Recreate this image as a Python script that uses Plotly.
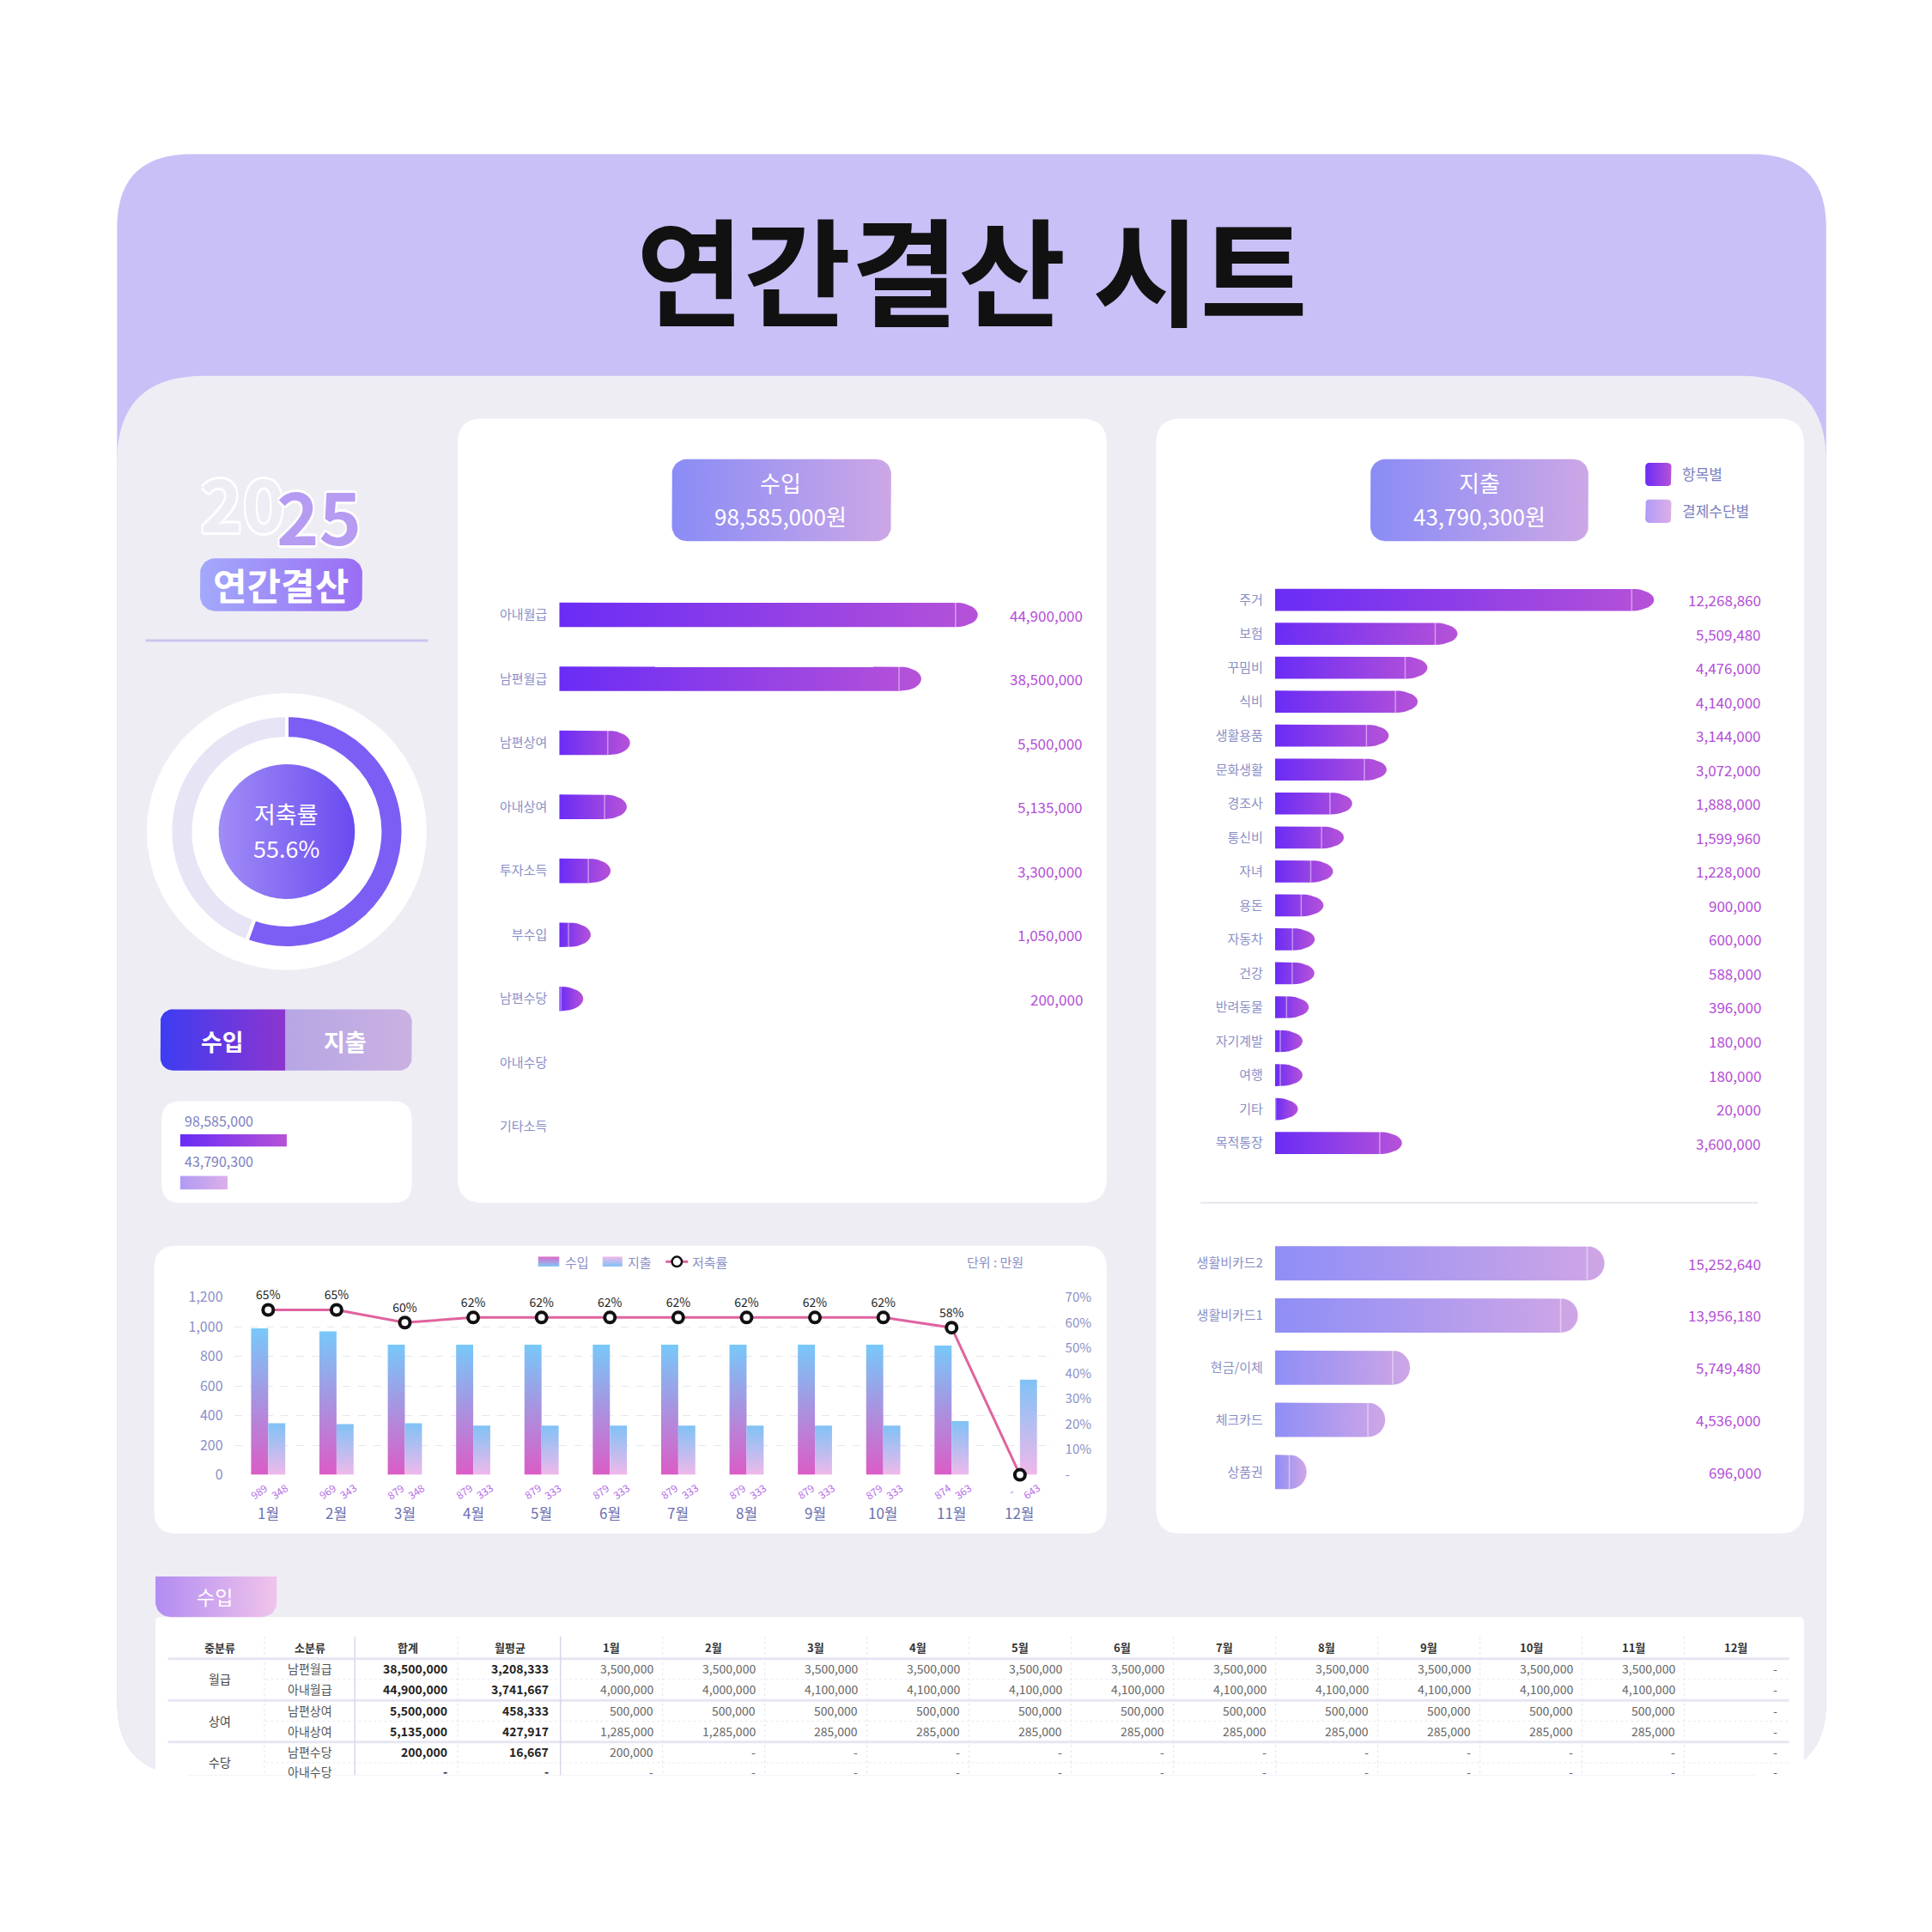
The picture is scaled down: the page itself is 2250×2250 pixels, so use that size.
import numpy as np
import plotly.graph_objects as go

S = 2250 / 1560  # layout is measured on a 1560 grid, page is 2250 px
OX, OY = 6, 11   # compensate page offset of the rendered html
FONT = "Noto Sans CJK KR"

# ---------------- data ----------------
income_cats = ["아내월급", "남편월급", "남편상여", "아내상여", "투자소득", "부수입", "남편수당", "아내수당", "기타소득"]
income_vals = [44900000, 38500000, 5500000, 5135000, 3300000, 1050000, 200000, 0, 0]
income_total = 98585000

expense_cats = ["주거", "보험", "꾸밈비", "식비", "생활용품", "문화생활", "경조사", "통신비", "자녀", "용돈",
                "자동차", "건강", "반려동물", "자기계발", "여행", "기타", "목적통장"]
expense_vals = [12268860, 5509480, 4476000, 4140000, 3144000, 3072000, 1888000, 1599960, 1228000, 900000,
                600000, 588000, 396000, 180000, 180000, 20000, 3600000]
expense_total = 43790300

pay_cats = ["생활비카드2", "생활비카드1", "현금/이체", "체크카드", "상품권"]
pay_vals = [15252640, 13956180, 5749480, 4536000, 696000]

months = ["1월", "2월", "3월", "4월", "5월", "6월", "7월", "8월", "9월", "10월", "11월", "12월"]
m_income = [989, 969, 879, 879, 879, 879, 879, 879, 879, 879, 874, 0]
m_expense = [348, 343, 348, 333, 333, 333, 333, 333, 333, 333, 363, 643]
m_rate = [65, 65, 60, 62, 62, 62, 62, 62, 62, 62, 58, 0]
saving_rate = 55.6

tbl_mid = ["월급", "상여", "수당"]
tbl_sub = ["남편월급", "아내월급", "남편상여", "아내상여", "남편수당", "아내수당"]
tbl_sum = [38500000, 44900000, 5500000, 5135000, 200000, 0]
tbl_avg = [3208333, 3741667, 458333, 427917, 16667, 0]
tbl_months = [
    [3500000] * 11 + [0],
    [4000000, 4000000] + [4100000] * 9 + [0],
    [500000] * 11 + [0],
    [1285000, 1285000] + [285000] * 9 + [0],
    [200000] + [0] * 11,
    [0] * 12,
]

fig = go.Figure()
shapes, annots = [], []
AX = "#8a8fc6"
VAL = "#b34fd6"


def F(d):
    return round(d * S)


def dx(v):
    return (v - OX) / 1560


def dy(v):
    return 1 - (v - OY) / 1560


def fmt(v):
    return f"{v:,}" if v else "-"


def rr_path(x0, y0, x1, y1, r):
    return (f"M{x0+r},{y0} L{x1-r},{y0} Q{x1},{y0} {x1},{y0+r} L{x1},{y1-r} Q{x1},{y1} {x1-r},{y1} "
            f"L{x0+r},{y1} Q{x0},{y1} {x0},{y1-r} L{x0},{y0+r} Q{x0},{y0} {x0+r},{y0} Z")


def box(x0, y0, x1, y1, r, fill):
    shapes.append(dict(type="path", path=rr_path(x0, y0, x1, y1, r), xref="x", yref="y",
                       fillcolor=fill, line=dict(width=0), layer="below"))


def rr_pts(x0, y0, x1, y1, r, corners=(1, 1, 1, 1)):
    xs, ys = [], []
    cs = [(x1 - r, y0 + r, -90, 0), (x1 - r, y1 - r, 0, 90), (x0 + r, y1 - r, 90, 180), (x0 + r, y0 + r, 180, 270)]
    cx_def = [(x1, y0), (x1, y1), (x0, y1), (x0, y0)]
    for (cx, cy, a0, a1), on, p in zip(cs, corners, cx_def):
        if on:
            t = np.radians(np.linspace(a0, a1, 10))
            xs += list(cx + r * np.cos(t)); ys += list(cy + r * np.sin(t))
        else:
            xs.append(p[0]); ys.append(p[1])
    return xs + xs[:1], ys + ys[:1]


def gbox(x0, y0, x1, y1, r, c0, c1, corners=(1, 1, 1, 1), kind="horizontal"):
    xs, ys = rr_pts(x0, y0, x1, y1, r, corners)
    fig.add_trace(go.Scatter(x=xs, y=ys, fill="toself", mode="lines", line=dict(width=0),
                             fillgradient=dict(type=kind, colorscale=[[0, c0], [1, c1]]),
                             hoverinfo="skip", showlegend=False, xaxis="x", yaxis="y"))


def txt(x, y, s, size, color, xanchor="center", xref="x", yref="y", **kw):
    annots.append(dict(x=x, y=y, text=s, xref=xref, yref=yref, showarrow=False, xanchor=xanchor,
                       yanchor="middle", font=dict(family=FONT, size=size, color=color, **kw.pop("font", {})), **kw))


# ---------------- page background ----------------
box(95, 122, 1475, 1445, 60, "#c8c0f7")
shapes.append(dict(type="path", xref="x", yref="y", layer="below", fillcolor="#eeedf4", line=dict(width=0),
                   path="M95,373 Q95,303 165,303 L1405,303 Q1475,303 1475,373 L1475,1385 Q1475,1445 1415,1445 "
                        "L155,1445 Q95,1445 95,1385 Z"))
txt(785, 214, "<b>연간결산 시트</b>", F(94), "#111111")

for c in [(370, 338, 894, 978, 20), (934, 338, 1457, 1248, 20), (125, 1013, 894, 1248, 18),
          (131, 895, 333, 978, 15), (126, 1316, 1457, 1445, 4)]:
    box(*c, "#ffffff")

# ---------------- left column ----------------
outline = "2px 2px 0 #fff, -2px -2px 0 #fff, 2px -2px 0 #fff, -2px 2px 0 #fff, 0 3px 0 #fff, 0 -3px 0 #fff"
txt(196, 405, "<b>20</b>", F(58), "#eeedf4", font=dict(shadow=outline))
txt(258, 416, "<b>25</b>", F(58), "#b69bf2", font=dict(shadow=outline))
gbox(162, 452, 293, 495, 12, "#a3a9fb", "#9a6df4")
txt(227, 473, "<b>연간결산</b>", F(30), "#ffffff")
shapes.append(dict(type="line", x0=118, x1=346, y0=519, y1=519, xref="x", yref="y",
                   line=dict(color="#cbc5ee", width=3), layer="below"))

shapes.append(dict(type="circle", x0=119, x1=345, y0=562, y1=788, xref="x", yref="y",
                   fillcolor="#ffffff", line=dict(width=0), layer="below"))
fig.add_trace(go.Pie(values=[saving_rate, 100 - saving_rate], hole=0.8, sort=False, direction="clockwise",
                     marker=dict(colors=["#7c5ef4", "#e6e4f5"], line=dict(color="#ffffff", width=4)),
                     textinfo="none", hoverinfo="skip", showlegend=False,
                     domain=dict(x=[dx(137), dx(327)], y=[dy(770), dy(580)])))
t = np.linspace(0, 2 * np.pi, 60)
fig.add_trace(go.Scatter(x=232 + 55 * np.cos(t), y=675 + 55 * np.sin(t), fill="toself", mode="lines",
                         line=dict(width=0), hoverinfo="skip", showlegend=False,
                         fillgradient=dict(type="horizontal", colorscale=[[0, "#a18cf6"], [1, "#6a4bf0"]])))
txt(232, 660, "저축률", F(19), "#ffffff")
txt(232, 688, f"{saving_rate}%", F(19), "#ffffff")

gbox(130, 820, 231, 870, 10, "#3c3df2", "#8d35cf", corners=(0, 0, 1, 1))
gbox(231, 820, 333, 870, 10, "#b6a6e4", "#cbb1e2", corners=(1, 1, 0, 0))
txt(180, 846, "<b>수입</b>", F(19), "#ffffff")
txt(279, 846, "<b>지출</b>", F(19), "#ffffff")

txt(148, 911, fmt(income_total), F(11), "#7b7fc0", xanchor="left")
txt(148, 944, fmt(expense_total), F(11), "#7b7fc0", xanchor="left")
L = 86
gbox(146, 922, 146 + L, 932, 0.1, "#6a2cf5", "#b652d8")
gbox(146, 956, 146 + L * expense_total / income_total, 967, 0.1, "#b09af5", "#dcb0e8")

# ---------------- badges + legend ----------------
gbox(543, 371, 720, 438, 12, "#8a8cf6", "#cca7e6")
txt(631, 390, "수입", F(18), "#ffffff")
txt(631, 417, f"{income_total:,}원", F(18), "#ffffff")
gbox(1107, 371, 1283, 438, 12, "#8a8cf6", "#cca7e6")
txt(1195, 390, "지출", F(18), "#ffffff")
txt(1195, 417, f"{expense_total:,}원", F(18), "#ffffff")
gbox(1329, 374, 1350, 393, 3, "#6a2cf5", "#b652d8")
gbox(1329, 404, 1350, 423, 3, "#b09af5", "#dcb0e8")
txt(1357, 383, "항목별", F(12), "#7b80c0", xanchor="left")
txt(1357, 413, "결제수단별", F(12), "#7b80c0", xanchor="left")
shapes.append(dict(type="line", x0=970, x1=1420, y0=978, y1=978, xref="x", yref="y",
                   line=dict(color="#e6e6ef", width=2), layer="below"))


# ---------------- horizontal bar charts ----------------
def hbars(ax, cats, vals, px0, px1, py0, py1, rect_px, capw, bar_h, c0, c1, val_x):
    n = len(cats)
    R = max(vals) * (px1 - px0) / rect_px
    ux = R / (px1 - px0)
    step = (py1 - py0) / n
    hu = bar_h / step / 2
    cw = capw * ux
    for i, v in enumerate(vals):
        if v <= 0:
            continue
        a = np.linspace(-np.pi / 2, np.pi / 2, 16)
        xs = [0, v] + list(v + cw * np.cos(a)) + [v, 0, 0]
        ys = [i - hu, i - hu] + list(i + hu * np.sin(a)) + [i + hu, i + hu, i - hu]
        fig.add_trace(go.Scatter(x=xs, y=ys, fill="toself", mode="lines", line=dict(width=0),
                                 fillgradient=dict(type="horizontal", colorscale=[[0, c0], [1, c1]]),
                                 hoverinfo="skip", showlegend=False, xaxis="x" + ax, yaxis="y" + ax))
        # faint highlight where the value ends and the rounded cap starts
        fig.add_trace(go.Scatter(x=[v, v], y=[i - hu, i + hu], mode="lines",
                                 line=dict(color="rgba(255,255,255,0.45)", width=1.5),
                                 hoverinfo="skip", showlegend=False, xaxis="x" + ax, yaxis="y" + ax))
        txt(val_x, i, fmt(v), F(11.5), VAL, xanchor="right", xref="paper", yref="y" + ax)
    fig.layout["xaxis" + ax] = dict(domain=[dx(px0), dx(px1)], range=[0, R], visible=False,
                                    anchor="y" + ax, fixedrange=True)
    fig.layout["yaxis" + ax] = dict(domain=[dy(py1), dy(py0)], range=[n - 0.5, -0.5],
                                    anchor="x" + ax, tickvals=list(range(n)), ticktext=cats,
                                    showgrid=False, zeroline=False, showline=False, ticks="",
                                    ticklabelstandoff=F(9), tickfont=dict(family=FONT, size=F(10.5), color=AX),
                                    fixedrange=True)


hbars("2", income_cats, income_vals, 452, 800, 472, 942, 320, 18, 20, "#6a2cf5", "#b652d8", dx(876))
hbars("3", expense_cats, expense_vals, 1030, 1340, 472, 943, 288, 18, 18, "#6a2cf5", "#b652d8", dx(1424))
hbars("4", pay_cats, pay_vals, 1030, 1300, 1006, 1219, 252, 14, 28, "#8f8ef6", "#cfa6e6", dx(1424))

# ---------------- monthly combo chart ----------------
bw = 0.25
for i in range(12):
    for v, off, cs in [(m_income[i], -bw, [[0, "#db5cc6"], [1, "#78c8f9"]]),
                       (m_expense[i], 0, [[0, "#f0b8ea"], [1, "#80c2f6"]])]:
        if v <= 0:
            continue
        x0, x1 = i + off, i + off + bw
        fig.add_trace(go.Scatter(x=[x0, x1, x1, x0, x0], y=[0, 0, v, v, 0], fill="toself", mode="lines",
                                 line=dict(width=0), fillgradient=dict(type="vertical", colorscale=cs),
                                 hoverinfo="skip", showlegend=False, xaxis="x5", yaxis="y5"))
    txt(i - 0.14, dy(1213), str(m_income[i]) if m_income[i] else "-", F(8), "#b56ee6",
        xref="x5", yref="paper", textangle=-35)
    txt(i + 0.16, dy(1213), str(m_expense[i]), F(8), "#b56ee6", xref="x5", yref="paper", textangle=-35)
    txt(i, dy(1231), months[i], F(11.5), "#6a70b0", xref="x5", yref="paper")

fig.add_trace(go.Scatter(x=list(range(12)), y=[r / 100 for r in m_rate], mode="lines+markers+text",
                         text=[f"{r}%" if r else "" for r in m_rate], textposition="top center",
                         textfont=dict(family=FONT, size=F(10), color="#222222"),
                         line=dict(color="#e0639f", width=3),
                         marker=dict(size=F(8.5), color="#ffffff", line=dict(color="#111111", width=4)),
                         hoverinfo="skip", showlegend=False, xaxis="x5", yaxis="y6", cliponaxis=False))

fig.layout.xaxis5 = dict(domain=[dx(189.4), dx(851.6)], range=[-0.5, 11.5], visible=False,
                         anchor="y5", fixedrange=True)
fig.layout.yaxis5 = dict(domain=[dy(1200), dy(1055)], range=[0, 1200], anchor="x5",
                         tickvals=list(range(0, 1201, 200)), tickformat=",", gridcolor="#e6e6f2",
                         griddash="dash", zeroline=False, showline=False, ticks="", ticklabelstandoff=F(8),
                         tickfont=dict(family=FONT, size=F(11), color=AX), fixedrange=True)
fig.layout.yaxis6 = dict(overlaying="y5", side="right", anchor="x5", range=[0, 0.7],
                         tickvals=[i / 10 for i in range(8)],
                         ticktext=["-"] + [f"{i * 10}%" for i in range(1, 8)], showgrid=False, zeroline=False,
                         ticks="", ticklabelstandoff=F(8), tickfont=dict(family=FONT, size=F(10.5), color=AX),
                         fixedrange=True)

# combo legend
gbox(435, 1022, 452, 1030, 0.1, "#7fc6f8", "#db6cc9", kind="vertical")
gbox(487, 1022, 503, 1030, 0.1, "#80c2f6", "#f0b8ea", kind="vertical")
txt(455, 1026, "수입", F(10.5), AX, xanchor="left")
txt(506, 1026, "지출", F(10.5), AX, xanchor="left")
shapes.append(dict(type="line", x0=538, x1=556, y0=1026, y1=1026, xref="x", yref="y",
                   line=dict(color="#e0639f", width=3)))
shapes.append(dict(type="circle", x0=543, x1=551, y0=1022, y1=1030, xref="x", yref="y",
                   fillcolor="#ffffff", line=dict(color="#111", width=2.5)))
txt(558, 1026, "저축률", F(10.5), AX, xanchor="left")
txt(828, 1026, "단위 : 만원", F(10.5), AX, xanchor="right")

# ---------------- income table ----------------
gbox(126, 1283, 224, 1316, 12, "#b28cf2", "#f0c4ea", corners=(0, 1, 1, 0))
txt(174, 1299, "수입", F(16), "#ffffff")

bounds = [453 + 82.5 * k for k in range(13)]
hy, rows_y = 1341, [1358, 1375, 1392, 1409, 1426, 1442]
hdr = ["중분류", "소분류", "합계", "월평균"] + months
hx = [178, 251, 330, 412] + [(bounds[k] + bounds[k + 1]) / 2 for k in range(12)]
for h, x in zip(hdr, hx):
    txt(x, hy, f"<b>{h}</b>", F(9), "#333333")
for y in [1350, 1384, 1418]:
    shapes.append(dict(type="line", x0=136, x1=1445, y0=y, y1=y, xref="x", yref="y",
                       line=dict(color="#e6e6f3", width=3), layer="below"))
for y in [1367, 1401, 1435]:
    shapes.append(dict(type="line", x0=215, x1=1445, y0=y, y1=y, xref="x", yref="y",
                       line=dict(color="#e8e8f2", width=1, dash="dot"), layer="below"))
for x in [214, 370] + bounds[1:-1]:
    shapes.append(dict(type="line", x0=x, x1=x, y0=1332, y1=1445, xref="x", yref="y",
                       line=dict(color="#e4e4f2", width=1, dash="dot"), layer="below"))
for x in [287, 453]:
    shapes.append(dict(type="line", x0=x, x1=x, y0=1332, y1=1445, xref="x", yref="y",
                       line=dict(color="#d8d6ee", width=1.5), layer="below"))
for k, m in enumerate(tbl_mid):
    txt(178, (rows_y[2 * k] + rows_y[2 * k + 1]) / 2, m, F(9.5), "#444444")
for r, y in enumerate(rows_y):
    txt(251, y, tbl_sub[r], F(9.5), "#555555")
    txt(363, y, f"<b>{fmt(tbl_sum[r])}</b>", F(9.5), "#222222", xanchor="right")
    txt(445, y, f"<b>{fmt(tbl_avg[r])}</b>", F(9.5), "#222222", xanchor="right")
    for k in range(12):
        txt(bounds[k + 1] - 6, y, fmt(tbl_months[r][k]), F(9.5), "#666666", xanchor="right")

fig.update_layout(
    width=2250, height=2250, margin=dict(l=0, r=0, t=0, b=0),
    paper_bgcolor="#ffffff", plot_bgcolor="rgba(0,0,0,0)",
    xaxis=dict(domain=[0, 1], range=[OX, 1560 + OX], visible=False, fixedrange=True),
    yaxis=dict(domain=[0, 1], range=[1560 + OY, OY], visible=False, fixedrange=True),
    shapes=shapes, annotations=annots, font=dict(family=FONT), showlegend=False,
)
fig.write_html("out.html")
